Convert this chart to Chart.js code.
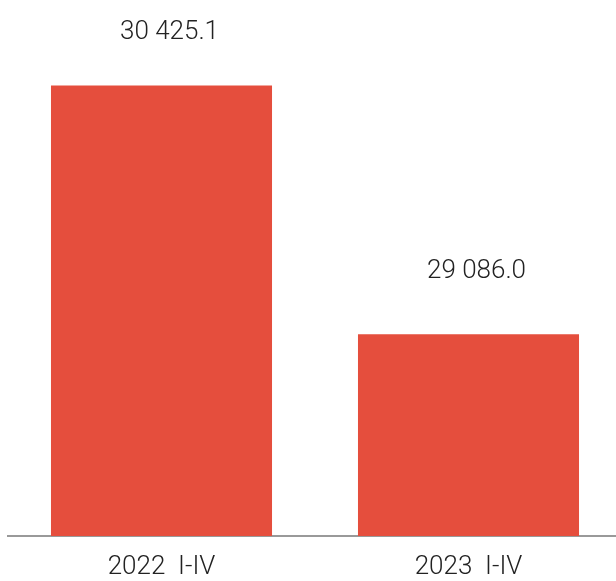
<!DOCTYPE html>
<html>
<head>
<meta charset="utf-8">
<script src="https://cdn.jsdelivr.net/npm/chart.js@4"></script>
<style>
body{margin:0;overflow:hidden;background:#fff;}
</style>
</head>
<body>
<canvas id="grafica" width="622" height="581"></canvas>
<script>
var periodos = ['2022  I-IV', '2023  I-IV'];
var valores = [30425.1, 29086.0];
var etiquetas = ['30 425.1', '29 086.0'];

var fuente = 'Roboto';

var etiquetasBarras = {
    id: 'etiquetasBarras',
    afterDatasetsDraw(chart) {
        let ctx = chart.ctx;
        let meta = chart.getDatasetMeta(0);
        ctx.save();
        ctx.font = '300 26px ' + fuente;
        ctx.fillStyle = '#222';
        ctx.textAlign = 'center';
        ctx.textBaseline = 'middle';
        meta.data.forEach((bar, i) => {
            ctx.fillText(etiquetas[i], bar.x + 8, Math.max(bar.y - 63, 32));
        });
        ctx.restore();
    }
};

let ctx = document.getElementById('grafica').getContext('2d');
let grafica = new Chart(ctx, {
    type: 'bar',
    data: {
        labels: periodos,
        datasets: [{
            data: valores,
            backgroundColor: '#e54e3d',
            borderWidth: 0,
            barPercentage: 0.72,
            categoryPercentage: 1
        }]
    },
    options: {
        responsive: false,
        animation: false,
        layout: { padding: { left: 8, top: 16, right: 0, bottom: 0 } },
        plugins: { legend: { display: false }, tooltip: { enabled: false } },
        scales: {
            x: {
                grid: { display: false, drawTicks: false },
                border: { display: true, color: '#999', width: 2 },
                ticks: { color: '#222', font: { family: fuente, size: 26, weight: 300 }, padding: 16 },
                afterFit(scale) { scale.height = 45; }
            },
            y: {
                display: false,
                min: 28000,
                max: 30800
            }
        }
    },
    plugins: [etiquetasBarras]
});
</script>
</body>
</html>
